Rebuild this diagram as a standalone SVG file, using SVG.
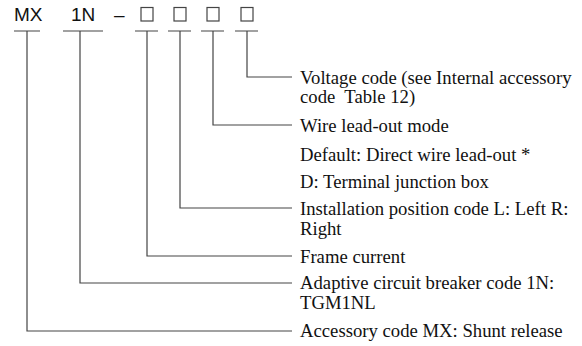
<svg xmlns="http://www.w3.org/2000/svg" width="582" height="346" viewBox="0 0 582 346">
<style>
.hd{font-family:"Liberation Sans",Arial,sans-serif;font-size:19px;fill:#111}
.lb{font-family:"Liberation Serif","Times New Roman",serif;font-size:18.7px;fill:#111}
.ln{fill:none;stroke:#444;stroke-width:1.2}
.bx{fill:#fff;stroke:#444;stroke-width:1.2}
</style>
<rect width="582" height="346" fill="#fff"/>
<g id="header">
<text class="hd" x="14" y="21">MX</text>
<text class="hd" x="71" y="21">1N</text>
<text class="hd" x="114" y="21">–</text>
<rect class="bx" x="141" y="7.5" width="12" height="13.5"/>
<rect class="bx" x="174" y="7.5" width="12" height="13.5"/>
<rect class="bx" x="207" y="7.5" width="12" height="13.5"/>
<rect class="bx" x="241" y="7.5" width="12" height="13.5"/>
</g>
<g id="connectors">
<path class="ln" d="M14 31H40M63 31H103M135 31H158M168 31H191M201 31H224M235 31H258"/>
<path class="ln" d="M247 31V77H292"/>
<path class="ln" d="M213 31V125H292"/>
<path class="ln" d="M180 31V208H292"/>
<path class="ln" d="M147 31V256H292"/>
<path class="ln" d="M80 31V283H292"/>
<path class="ln" d="M27 31V331H292"/>
</g>
<g id="n-voltage"><text class="lb" x="300" y="84">Voltage code (see Internal accessory</text><text class="lb" x="300" y="103" xml:space="preserve">code  Table 12)</text></g>
<g id="n-wire"><text class="lb" x="300" y="132">Wire lead-out mode</text></g>
<g id="n-default"><text class="lb" x="300" y="161">Default: Direct wire lead-out *</text></g>
<g id="n-d"><text class="lb" x="300" y="188">D: Terminal junction box</text></g>
<g id="n-install"><text class="lb" x="300" y="215">Installation position code L: Left R:</text><text class="lb" x="300" y="235">Right</text></g>
<g id="n-frame"><text class="lb" x="300" y="263">Frame current</text></g>
<g id="n-adaptive"><text class="lb" x="300" y="289">Adaptive circuit breaker code 1N:</text><text class="lb" x="300" y="309">TGM1NL</text></g>
<g id="n-accessory"><text class="lb" x="300" y="337">Accessory code MX: Shunt release</text></g>
</svg>
